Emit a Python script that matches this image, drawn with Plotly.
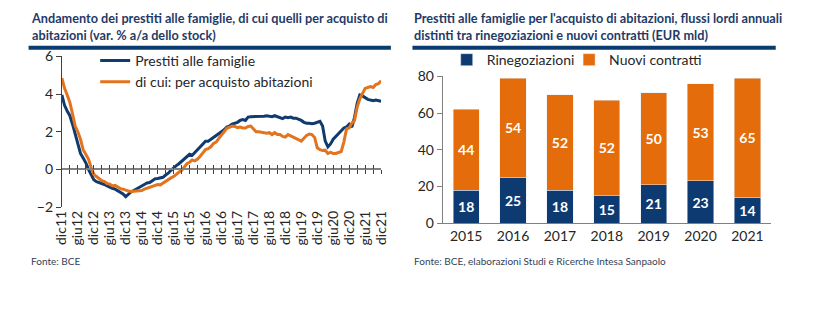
import plotly.graph_objects as go

# ---------------- data ----------------
month_labels = ["dic11", "giu12", "dic12", "giu13", "dic13", "giu14", "dic14", "giu15", "dic15",
                "giu16", "dic16", "giu17", "dic17", "giu18", "dic18", "giu19", "dic19", "giu20",
                "dic20", "giu21", "dic21"]

prestiti_famiglie = [
    3.95, 3.40, 3.10, 2.85, 2.40, 1.90, 1.30, 0.85, 0.60, 0.35,
    0.00, -0.30, -0.55, -0.65, -0.70, -0.72, -0.80, -0.88, -0.92, -1.00,
    -1.05, -1.12, -1.20, -1.30, -1.45, -1.30, -1.20, -1.12, -1.05, -0.98,
    -0.90, -0.80, -0.72, -0.70, -0.60, -0.50, -0.48, -0.47, -0.42, -0.30,
    -0.20, -0.05, 0.10, 0.20, 0.30, 0.42, 0.55, 0.68, 0.80, 0.75,
    0.90, 1.05, 1.20, 1.35, 1.50, 1.50, 1.60, 1.72, 1.80, 1.90,
    2.02, 2.10, 2.25, 2.30, 2.40, 2.45, 2.50, 2.60, 2.65, 2.60,
    2.78, 2.80, 2.80, 2.80, 2.82, 2.80, 2.82, 2.85, 2.82, 2.80,
    2.85, 2.80, 2.78, 2.70, 2.78, 2.75, 2.78, 2.72, 2.72, 2.68,
    2.60, 2.50, 2.45, 2.45, 2.42, 2.45, 2.50, 2.55, 2.30, 1.50,
    1.20, 1.35, 1.60, 1.75, 1.95, 2.05, 2.20, 2.25, 2.40, 2.25,
    2.75, 3.50, 3.95, 3.90, 3.80, 3.72, 3.68, 3.65, 3.68, 3.65,
    3.62,
]

per_acquisto_abitazioni = [
    4.85, 4.30, 3.95, 3.55, 2.95, 2.30, 2.00, 1.60, 1.05, 0.80,
    0.55, 0.10, -0.25, -0.38, -0.50, -0.60, -0.65, -0.75, -0.78, -0.88,
    -0.85, -0.95, -1.02, -1.05, -1.12, -1.15, -1.17, -1.15, -1.15, -1.13,
    -1.12, -1.05, -1.00, -0.92, -0.88, -0.85, -0.80, -0.82, -0.72, -0.62,
    -0.55, -0.45, -0.38, -0.25, -0.15, -0.05, 0.15, 0.30, 0.38, 0.50,
    0.45, 0.55, 0.70, 0.90, 1.05, 1.10, 1.20, 1.38, 1.45, 1.65,
    1.85, 2.00, 2.18, 2.25, 2.30, 2.28, 2.22, 2.25, 2.20, 2.20,
    2.28, 2.30, 2.15, 2.00, 2.00, 1.97, 1.98, 1.92, 1.95, 1.85,
    1.95, 1.85, 1.85, 1.75, 1.72, 1.85, 1.78, 1.72, 1.65, 1.60,
    1.50, 1.65, 1.80, 1.88, 1.85, 1.70, 1.15, 1.05, 1.00, 1.02,
    0.85, 0.90, 0.85, 0.85, 0.88, 0.95, 1.45, 2.15, 2.20, 2.45,
    2.60, 3.30, 3.75, 4.05, 4.30, 4.35, 4.40, 4.35, 4.50, 4.55,
    4.70,
]

anni = ["2015", "2016", "2017", "2018", "2019", "2020", "2021"]
rinegoziazioni = [18, 25, 18, 15, 21, 23, 14]
nuovi_contratti = [44, 54, 52, 52, 50, 53, 65]

# ---------------- style ----------------
W, H = 818, 325
FONT = "Lato"
BLUE = "#0F3B6E"
ORANGE = "#E4731E"
BAR_BLUE = "#0E3A72"
BAR_ORANGE = "#E46C0A"
TITLE_COL = "#1F3A66"
TXT = "#262626"

def px_x(p):
    return p / W

def px_y(p):
    return 1 - p / H

months = list(range(len(prestiti_famiglie)))
label_pos = list(range(0, len(prestiti_famiglie), 6))
quarter_pos = list(range(0, len(prestiti_famiglie), 3))

fig = go.Figure()

fig.add_trace(go.Scatter(x=months, y=prestiti_famiglie, mode="lines", name="Prestiti alle famiglie",
                         line=dict(color=BLUE, width=3), xaxis="x", yaxis="y", legend="legend"))
fig.add_trace(go.Scatter(x=months, y=per_acquisto_abitazioni, mode="lines",
                         name="di cui: per acquisto abitazioni",
                         line=dict(color=ORANGE, width=3), xaxis="x", yaxis="y", legend="legend"))
# invisible helpers so that the zero-line tick axes are drawn
fig.add_trace(go.Scatter(x=[0, 120], y=[0, 0], mode="lines", line=dict(width=0), showlegend=False,
                         hoverinfo="skip", xaxis="x3", yaxis="y"))
fig.add_trace(go.Scatter(x=[0, 120], y=[0, 0], mode="lines", line=dict(width=0), showlegend=False,
                         hoverinfo="skip", xaxis="x4", yaxis="y"))

fig.add_trace(go.Bar(x=anni, y=rinegoziazioni, name="Rinegoziazioni", marker_color=BAR_BLUE,
                     text=rinegoziazioni, textposition="inside", insidetextanchor="middle",
                     textfont=dict(color="white", size=14, family=FONT, weight="bold"),
                     width=0.56, xaxis="x2", yaxis="y2", legend="legend2"))
fig.add_trace(go.Bar(x=anni, y=nuovi_contratti, name="Nuovi contratti", marker_color=BAR_ORANGE,
                     text=nuovi_contratti, textposition="inside", insidetextanchor="middle",
                     textfont=dict(color="white", size=14, family=FONT, weight="bold"),
                     width=0.56, xaxis="x2", yaxis="y2", legend="legend3"))

left_dom = [px_x(54), px_x(380)]
left_ydom = [px_y(209), px_y(50)]
ymin, ymax = -2, 6
zero_pos = left_ydom[0] + (0 - ymin) / (ymax - ymin) * (left_ydom[1] - left_ydom[0])

legend_common = dict(xanchor="left", yanchor="top", bgcolor="rgba(0,0,0,0)",
                     font=dict(size=14, color=TXT), itemwidth=30, traceorder="normal")

fig.update_layout(
    width=W, height=H,
    margin=dict(l=0, r=0, t=0, b=0),
    paper_bgcolor="white", plot_bgcolor="white",
    font=dict(family=FONT, color=TXT, size=13),
    barmode="stack",
    showlegend=True,
    xaxis=dict(domain=left_dom, range=[0, 120], anchor="y", showgrid=False, zeroline=False,
               showline=False, ticks="", tickvals=label_pos, ticktext=month_labels,
               tickangle=-90, tickfont=dict(size=14, color=TXT)),
    xaxis3=dict(overlaying="x", anchor="free", position=zero_pos, range=[0, 120], showgrid=False,
                zeroline=False, showline=True, linecolor="#808080", linewidth=1.5,
                ticks="outside", ticklen=4, tickcolor="#404040", tickwidth=1,
                tickvals=quarter_pos, showticklabels=False),
    xaxis4=dict(overlaying="x", anchor="free", position=zero_pos, range=[0, 120], showgrid=False,
                zeroline=False, showline=False,
                ticks="inside", ticklen=4, tickcolor="#404040", tickwidth=1,
                tickvals=quarter_pos, showticklabels=False),
    yaxis=dict(domain=left_ydom, range=[ymin, ymax], anchor="x", showgrid=False, zeroline=False,
               showline=True, linecolor="#404040", linewidth=1, ticks="outside", ticklen=5,
               tickcolor="#404040", dtick=2, tickfont=dict(size=14, color=TXT)),
    xaxis2=dict(domain=[px_x(443), px_x(778)], anchor="y2", range=[-0.5, 6.5], showgrid=False,
                zeroline=False, showline=True, linecolor="#808080", linewidth=1, ticks="",
                tickfont=dict(size=14, color=TXT)),
    yaxis2=dict(domain=[px_y(226), px_y(71)], anchor="x2", range=[0, 80], showgrid=False,
                zeroline=False, showline=True, linecolor="#808080", linewidth=1, ticks="outside",
                ticklen=5, tickcolor="#808080", dtick=20, tickfont=dict(size=14, color=TXT)),
    legend=dict(x=px_x(88), y=px_y(38), orientation="v", tracegroupgap=0, **legend_common),
    legend2=dict(x=px_x(447), y=px_y(37), orientation="h", **legend_common),
    legend3=dict(x=px_x(572), y=px_y(37), orientation="h", **legend_common),
)

# titles
fig.add_annotation(text="Andamento dei prestiti alle famiglie, di cui quelli per acquisto di<br>abitazioni (var. % a/a dello stock)",
                   x=px_x(20), y=px_y(-1), xref="paper", yref="paper", xanchor="left", yanchor="top",
                   align="left", showarrow=False,
                   font=dict(size=12.7, color=TITLE_COL, family=FONT, weight="bold"))
fig.add_annotation(text="Prestiti alle famiglie per l'acquisto di abitazioni, flussi lordi annuali<br>distinti tra rinegoziazioni e nuovi contratti (EUR mld)",
                   x=px_x(412), y=px_y(-1), xref="paper", yref="paper", xanchor="left", yanchor="top",
                   align="left", showarrow=False,
                   font=dict(size=12.7, color=TITLE_COL, family=FONT, weight="bold"))
# rules under titles
fig.add_shape(type="line", xref="paper", yref="paper", x0=px_x(20), x1=px_x(390),
              y0=px_y(41), y1=px_y(41), line=dict(color="#0B3A6E", width=4))
fig.add_shape(type="line", xref="paper", yref="paper", x0=px_x(412), x1=px_x(783),
              y0=px_y(41), y1=px_y(41), line=dict(color="#0B3A6E", width=4))
# sources
fig.add_annotation(text="Fonte: BCE", x=px_x(20), y=px_y(266), xref="paper", yref="paper",
                   xanchor="left", yanchor="middle", showarrow=False,
                   font=dict(size=10, color="#333F55", family=FONT))
fig.add_annotation(text="Fonte: BCE, elaborazioni Studi e Ricerche Intesa Sanpaolo", x=px_x(412),
                   y=px_y(266), xref="paper", yref="paper", xanchor="left", yanchor="middle",
                   showarrow=False, font=dict(size=10, color="#333F55", family=FONT))

fig.write_html("out.html")
